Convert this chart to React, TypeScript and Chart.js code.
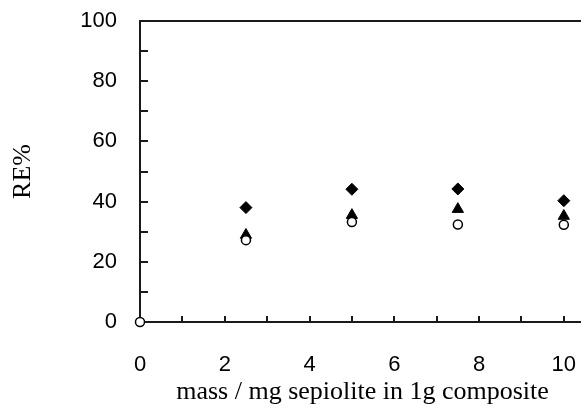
import { useEffect, useRef } from "react";
import { Chart, registerables } from "chart.js";

Chart.register(...registerables);

// ---- data ----
const massValues = [0, 2.5, 5, 7.5, 10];
const reDiamond: (number | null)[] = [null, 38.0, 44.1, 44.2, 40.3];
const reTriangle: (number | null)[] = [null, 28.9, 35.5, 37.5, 35.2];
const reCircle: (number | null)[] = [0, 27.2, 33.2, 32.4, 32.3];
const xTickLabels = [0, 2, 4, 6, 8, 10];
const yTickLabels = [0, 20, 40, 60, 80, 100];
const xMinorTicks = [1, 2, 3, 4, 5, 6, 7, 8, 9, 10];
const yMinorTicks = [10, 20, 30, 40, 50, 60, 70, 80, 90];
const xTitle = "mass / mg sepiolite in 1g composite";
const yTitle = "RE%";

const toPoints = (ys: (number | null)[]) =>
  massValues
    .map((x, i) => ({ x, y: ys[i] }))
    .filter((p) => p.y !== null) as { x: number; y: number }[];

const tickFont = {
  family: "'Liberation Sans', Arial, sans-serif",
  size: 22,
};
const titleFont = { family: "'Liberation Serif', 'Times New Roman', serif", size: 26 };

const axesPlugin = {
  id: "frameAxes",
  beforeDatasetsDraw(chart: any) {
    const { ctx, chartArea: a, scales } = chart;
    const x = scales.x;
    const y = scales.y;
    ctx.save();
    ctx.strokeStyle = "#1a1a1a";
    ctx.lineWidth = 2;
    ctx.beginPath();
    ctx.moveTo(a.left, a.top);
    ctx.lineTo(a.right, a.top);
    ctx.moveTo(a.left, a.top - 1);
    ctx.lineTo(a.left, a.bottom + 1);
    ctx.moveTo(a.left, a.bottom);
    ctx.lineTo(a.right, a.bottom);
    for (const v of yMinorTicks) {
      const py = Math.round(y.getPixelForValue(v));
      ctx.moveTo(a.left, py);
      ctx.lineTo(a.left + 8, py);
    }
    for (const v of xMinorTicks) {
      const px = Math.round(x.getPixelForValue(v));
      ctx.moveTo(px, a.bottom);
      ctx.lineTo(px, a.bottom - 6);
    }
    ctx.stroke();
    ctx.restore();
  },
};

export default function App() {
  const canvasRef = useRef<HTMLCanvasElement | null>(null);

  useEffect(() => {
    if (!canvasRef.current) return;
    const chart = new Chart(canvasRef.current, {
      type: "scatter",
      data: {
        datasets: [
          {
            label: "A",
            data: toPoints(reDiamond),
            pointStyle: "rectRot",
            pointRadius: 6,
            backgroundColor: "#000",
            borderColor: "#000",
            borderWidth: 1,
            order: 2,
            clip: false as any,
          },
          {
            label: "B",
            data: toPoints(reTriangle),
            pointStyle: "triangle",
            pointRadius: 6.5,
            backgroundColor: "#000",
            borderColor: "#000",
            borderWidth: 1,
            order: 1,
            clip: false as any,
          },
          {
            label: "C",
            data: toPoints(reCircle),
            pointStyle: "circle",
            pointRadius: 4.5,
            backgroundColor: "#fff",
            borderColor: "#000",
            borderWidth: 1.5,
            order: 0,
            clip: false as any,
          },
        ],
      },
      plugins: [axesPlugin],
      options: {
        animation: false,
        responsive: false,
        devicePixelRatio: 1,
        layout: { padding: { top: 21, right: 15, left: 0, bottom: 0 } },
        plugins: { legend: { display: false }, tooltip: { enabled: false } },
        scales: {
          x: {
            type: "linear",
            min: 0,
            max: 10.5,
            grid: { display: false, drawTicks: false, tickLength: 0 },
            border: { display: false },
            afterBuildTicks: (scale: any) => {
              scale.ticks = xTickLabels.map((v) => ({ value: v }));
            },
            ticks: {
              autoSkip: false,
              maxRotation: 0,
              padding: 30,
              color: "#000",
              font: tickFont,
              callback: (v: any) => String(v),
            },
            title: {
              display: true,
              text: xTitle,
              color: "#000",
              font: titleFont,
              padding: { top: 0, bottom: 0 },
            },
            afterFit: (scale: any) => {
              scale.height = 408 - 322;
              scale.paddingLeft = 0;
              scale.paddingRight = 0;
            },
          },
          y: {
            type: "linear",
            min: 0,
            max: 100,
            grid: { display: false, drawTicks: false, tickLength: 0 },
            border: { display: false },
            afterBuildTicks: (scale: any) => {
              scale.ticks = yTickLabels.map((v) => ({ value: v }));
            },
            ticks: {
              padding: 23,
              color: "#000",
              font: tickFont,
              callback: (v: any) => String(v),
            },
            title: {
              display: true,
              text: yTitle,
              color: "#000",
              font: titleFont,
              padding: { top: 8, bottom: 0 },
            },
            afterFit: (scale: any) => {
              scale.width = 140;
              scale.paddingTop = 0;
              scale.paddingBottom = 0;
            },
          },
        },
      },
    });
    return () => chart.destroy();
  }, []);

  return (
    <div
      style={{
        position: "fixed",
        left: 0,
        top: 0,
        width: 581,
        height: 408,
        overflow: "hidden",
        background: "#fff",
      }}
    >
      <canvas ref={canvasRef} width={600} height={408} style={{ display: "block" }} />
    </div>
  );
}
